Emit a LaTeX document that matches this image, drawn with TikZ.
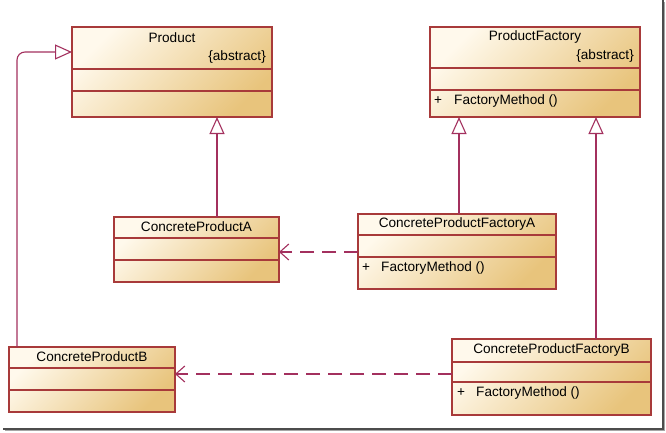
\documentclass[tikz,border=0pt]{standalone}
\usepackage{fontspec}
\setmainfont{Liberation Sans}
\usetikzlibrary{arrows.meta}
\definecolor{boxborder}{HTML}{A83A3A}
\definecolor{conn}{HTML}{A3305E}
\definecolor{filltop}{HTML}{FFF9EC}
\definecolor{fillbot}{HTML}{E8C47C}
\begin{document}
\begin{tikzpicture}[x=1pt,y=-1pt,
  umlbox/.style={draw=boxborder, line width=1.3pt, top color=filltop, bottom color=fillbot, shading angle=45, anchor=north west, inner sep=0pt, outer sep=0pt},
  sep/.style={draw=boxborder, line width=1.1pt},
  lbl/.style={font=\fontsize{13.6}{15}\selectfont, inner sep=0pt, text=black},
  inh/.style={draw=conn, line width=1.1pt, -{Triangle[open, width=15pt, length=17pt, fill=white]}},
  dep/.style={draw=conn, line width=1.1pt, dash pattern=on 14pt off 8pt, -{Straight Barb[length=9pt, width=16pt, line width=1.1pt]}}
]
\useasboundingbox (0,0) rectangle (666,432);
% frame shadow
\fill[black!70] (662,0) rectangle (663.5,429.5);
\fill[black!35] (663.5,2) rectangle (665,431);
\fill[black!70] (3,427.5) rectangle (663.5,429.5);
\fill[black!35] (5,429.5) rectangle (665,431);

% Product
\node[umlbox, minimum width=200pt, minimum height=90pt] (product) at (72,27) {};
\draw[sep] (72,69) -- (272,69) (72,91) -- (272,91);
\node[lbl] (productT) at (172,38) {Product};
\node[lbl, anchor=east] (productA) at (266,57) {\{abstract\}};

% ProductFactory
\node[umlbox, minimum width=210pt, minimum height=90pt] (pf) at (430,27) {};
\draw[sep] (430,68) -- (640,68) (430,90) -- (640,90);
\node[lbl] (pfT) at (535,37) {ProductFactory};
\node[lbl, anchor=east] (pfA) at (634,56) {\{abstract\}};
\node[lbl, anchor=west] (pfP) at (434,101) {+};
\node[lbl, anchor=west] (pfM) at (454,101) {FactoryMethod ()};

% ConcreteProductA
\node[umlbox, minimum width=165pt, minimum height=65pt] (cpa) at (114,217) {};
\draw[sep] (114,238) -- (279,238) (114,260) -- (279,260);
\node[lbl] (cpaT) at (196.5,227) {ConcreteProductA};

% ConcreteProductFactoryA
\node[umlbox, minimum width=198pt, minimum height=75pt] (cpfa) at (358,214) {};
\draw[sep] (358,235) -- (556,235) (358,257) -- (556,257);
\node[lbl] (cpfaT) at (457,223.5) {ConcreteProductFactoryA};
\node[lbl, anchor=west] (cpfaP) at (362,268) {+};
\node[lbl, anchor=west] (cpfaM) at (381,268) {FactoryMethod ()};

% ConcreteProductB
\node[umlbox, minimum width=166pt, minimum height=65pt] (cpb) at (9,347) {};
\draw[sep] (9,368) -- (175,368) (9,390) -- (175,390);
\node[lbl] (cpbT) at (92,356.5) {ConcreteProductB};

% ConcreteProductFactoryB
\node[umlbox, minimum width=199pt, minimum height=76pt] (cpfb) at (452,339) {};
\draw[sep] (452,362) -- (651,362) (452,382) -- (651,382);
\node[lbl] (cpfbT) at (551.5,350) {ConcreteProductFactoryB};
\node[lbl, anchor=west] (cpfbP) at (457,393) {+};
\node[lbl, anchor=west] (cpfbM) at (476,393) {FactoryMethod ()};

% generalizations
\draw[inh] (cpa.north -| 217,0) -- (product.south -| 217,0);
\draw[inh] (cpfa.north -| 459,0) -- (pf.south -| 459,0);
\draw[inh] (cpfb.north -| 596,0) -- (pf.south -| 596,0);
\draw[inh, rounded corners=8pt] (cpb.north -| 17,0) -- (17,52) -- (product.west |- 0,52);

% dependencies
\draw[dep] (cpfa.west |- 0,252) -- (cpa.east |- 0,252);
\draw[dep] (cpfb.west |- 0,374) -- (cpb.east |- 0,374);
\end{tikzpicture}
\end{document}
